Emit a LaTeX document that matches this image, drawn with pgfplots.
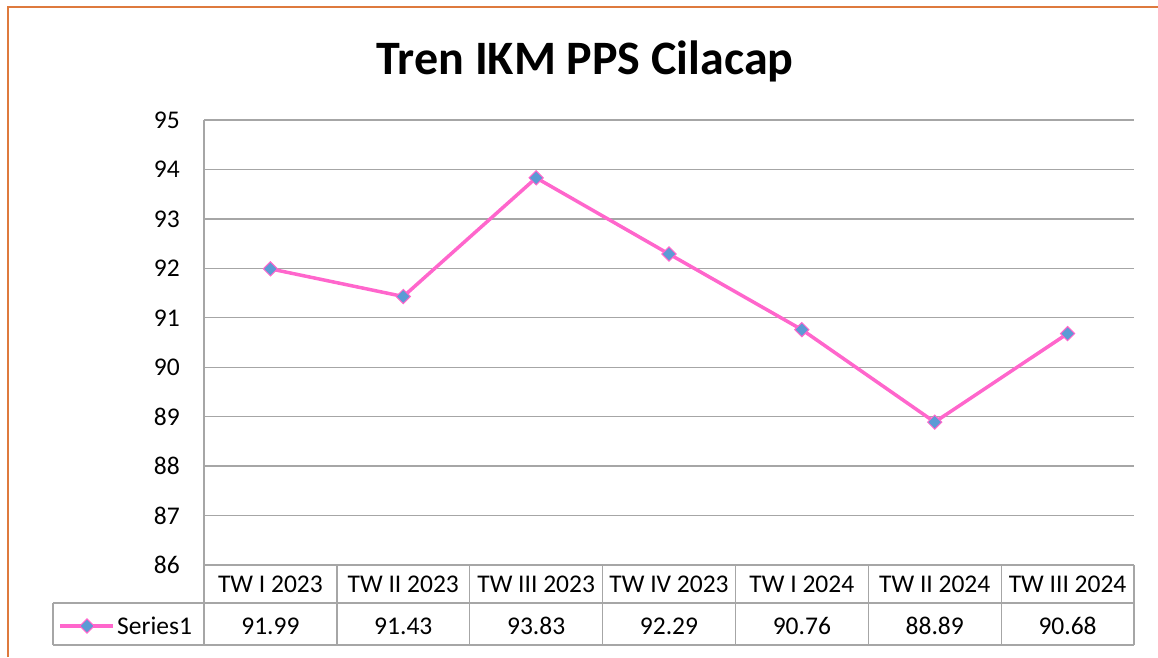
\documentclass[border=0pt]{standalone}
\usepackage{pgfplots}
\pgfplotsset{compat=1.18}
\usepackage{fontspec}
\setmainfont{Carlito}
\definecolor{linepink}{RGB}{255,102,204}
\definecolor{mkblue}{RGB}{91,155,213}
\definecolor{gridgray}{RGB}{166,166,166}
\definecolor{frameorange}{RGB}{222,122,62}
\begin{document}
\begin{tikzpicture}[x=1pt,y=1pt]
\useasboundingbox (0,0) rectangle (1158,657);
% outer frame
\draw[frameorange, line width=2pt] (8,0) -- (8,650) -- (1160,650);
% title
\node[font=\fontsize{48}{54}\selectfont\bfseries] at (585,596) {Tren IKM PPS Cilacap};
\begin{axis}[
  at={(204pt,92pt)}, anchor=south west,
  scale only axis, width=930pt, height=445pt,
  xmin=-0.5, xmax=6.5, ymin=86, ymax=95,
  ytick={86,87,...,95},
  xtick={0,...,6},
  xticklabels={TW I 2023,TW II 2023,TW III 2023,TW IV 2023,TW I 2024,TW II 2024,TW III 2024},
  xticklabel style={anchor=center, yshift=-19pt, font=\fontsize{25.5}{30}\selectfont},
  yticklabel style={anchor=east, inner sep=0pt, xshift=-24pt, font=\fontsize{25.5}{30}\selectfont,
    /pgf/number format/assume math mode=true},
  major tick length=0pt,
  axis line style={draw=none},
  ymajorgrids, grid style={gridgray, line width=1.3pt},
  clip=false,
]
\addplot[linepink, line width=3.5pt, mark=square*, mark size=5pt,
  mark options={rotate=45, fill=mkblue, draw=linepink, line width=1pt}]
  coordinates {(0,91.99) (1,91.43) (2,93.83) (3,92.29) (4,90.76) (5,88.89) (6,90.68)};
\end{axis}
% table lines
\begin{scope}[gridgray, line width=1.3pt]
\draw (204,537) -- (204,12);
\draw (204,92) -- (1134,92);
\draw (53,54) -- (1134,54);
\draw (53,12) -- (1134,12);
\draw (53,54) -- (53,12);
\foreach \k in {1,...,7} { \draw ({204+\k*132.857},92) -- ({204+\k*132.857},12); }
\end{scope}
% data values row
\foreach \v [count=\i from 0] in {91.99,91.43,93.83,92.29,90.76,88.89,90.68} {
  \node[font=\fontsize{25.5}{30}\selectfont] at ({204+(\i+0.5)*132.857},31) {\v};
}
% legend key
\draw[linepink, line width=3.5pt] (60,31) -- (113,31);
\node[draw=linepink, fill=mkblue, line width=1pt, minimum size=10pt, inner sep=0pt, rotate=45] at (87,31) {};
\node[font=\fontsize{25.5}{30}\selectfont, anchor=west, inner sep=0pt] at (117,31) {Series1};
\end{tikzpicture}
\end{document}
